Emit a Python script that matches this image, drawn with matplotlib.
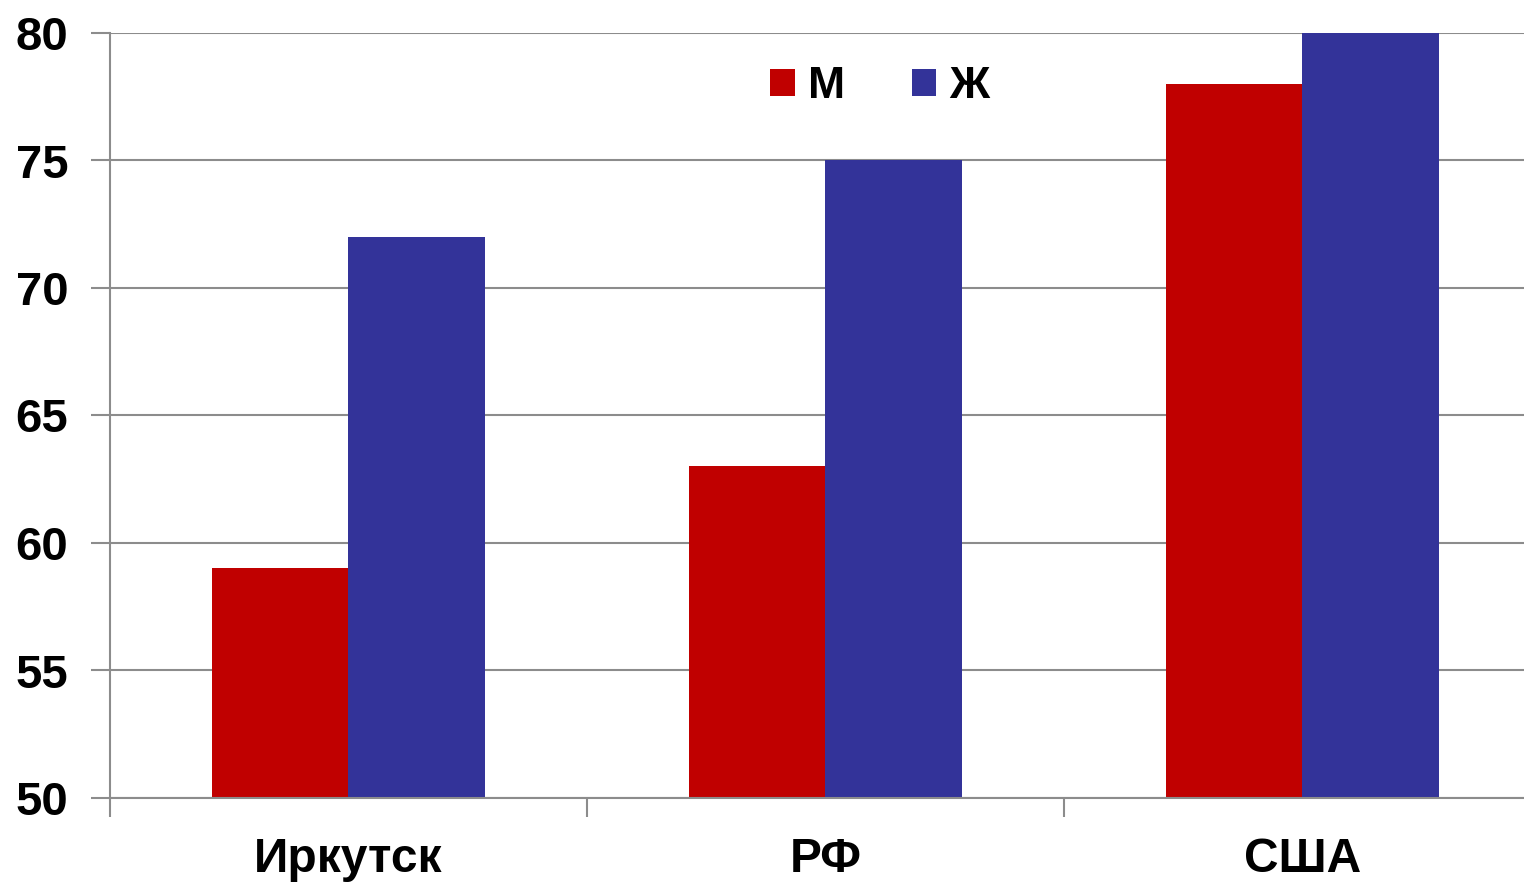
import matplotlib.pyplot as plt
import numpy as np

# средняя продолжительность жизни, лет
regions = ['Иркутск', 'РФ', 'США']
men = [59, 63, 78]
women = [72, 75, 80]
series_names = ['М', 'Ж']
yticks = [50, 55, 60, 65, 70, 75, 80]

plt.rcParams['font.family'] = ['Liberation Sans', 'DejaVu Sans']
plt.rcParams['font.weight'] = 'bold'

fig = plt.figure(figsize=(15.24, 8.83), dpi=100)
# область графика чуть шире картинки, правый край обрезан
ax = fig.add_axes([110 / 1524, 1 - 798 / 883, 1431 / 1524, 765 / 883])

x = np.arange(len(regions))
w = 0.286
ax.bar(x - w / 2, men, w, color='#C00000', label=series_names[0], zorder=3)
ax.bar(x + w / 2, women, w, color='#333399', label=series_names[1], zorder=3)

ax.set_ylim(50, 80)
ax.set_xlim(-0.5, len(regions) - 0.5)
ax.set_yticks(yticks)
ax.set_yticklabels([str(t) for t in yticks], fontsize=34, fontweight='bold')
ax.yaxis.grid(True, color='#8c8c8c', linewidth=1.5, zorder=0)

# подписи регионов по центру, засечки между группами
ax.set_xticks(np.arange(len(regions) + 1) - 0.5)
ax.set_xticklabels([])
ax.set_xticks(x, minor=True)
ax.set_xticklabels(regions, minor=True, fontsize=34.5, fontweight='bold')
ax.tick_params(axis='x', which='minor', length=0, pad=28)
ax.tick_params(axis='x', which='major', length=14, width=1.5, color='#8c8c8c')
ax.tick_params(axis='y', length=14, width=1.5, color='#8c8c8c', pad=16)

for s in ['top', 'right']:
    ax.spines[s].set_visible(False)
for s in ['left', 'bottom']:
    ax.spines[s].set_color('#8c8c8c')
    ax.spines[s].set_linewidth(1.5)
    ax.spines[s].set_zorder(4)

fig.legend(loc='center', bbox_to_anchor=(880 / 1524, 1 - 87 / 883), ncol=2,
           frameon=False, fontsize=32, handlelength=0.55, handleheight=0.55,
           handletextpad=0.3, columnspacing=1.5)

fig.savefig('out.png', dpi=100)
